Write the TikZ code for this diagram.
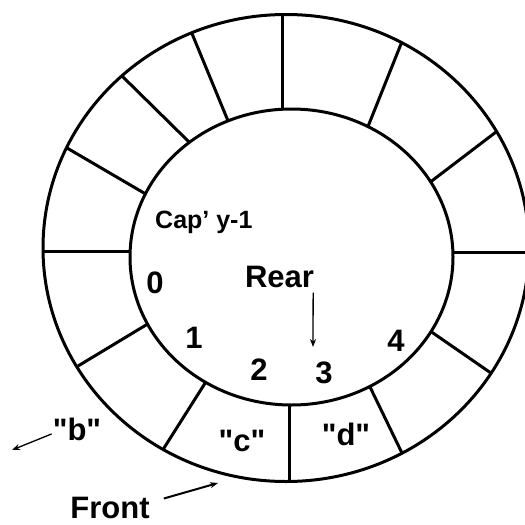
\documentclass[tikz,border=0pt]{standalone}
\usepackage{fontspec}
\setmainfont{Liberation Sans}[Ligatures=TeXOff]
\usetikzlibrary{arrows.meta}
\tikzset{ring/.style={line width=3pt},
  word/.style={font=\bfseries\fontsize{31}{36}\selectfont,inner sep=0pt,anchor=base},
  smallword/.style={word,font=\bfseries\fontsize{25}{30}\selectfont},
  pointer/.style={->,line width=1.3pt}}

\begin{document}
\begin{tikzpicture}[x=1pt,y=-1pt,>={Stealth[length=8pt,width=6pt]}]
    \useasboundingbox (0,0) rectangle (525,525);
    % cell walls of the ring
    \begin{scope}
      \clip (286,248) ellipse (243 and 233.5);
      \draw[ring,shorten <=-6pt,shorten >=-6pt] (282,107) -- (282,15);
      \draw[ring,shorten <=-6pt,shorten >=-6pt] (226,116) -- (193,36);
      \draw[ring,shorten <=-6pt,shorten >=-6pt] (186,139) -- (122,76);
      \draw[ring,shorten <=-6pt,shorten >=-6pt] (144,193) -- (67,148);
      \draw[ring,shorten <=-6pt,shorten >=-6pt] (130,251) -- (43,251);
      \draw[ring,shorten <=-6pt,shorten >=-6pt] (146,325) -- (83,363);
      \draw[ring,shorten <=-6pt,shorten >=-6pt] (202,388) -- (164,448);
      \draw[ring,shorten <=-6pt,shorten >=-6pt] (289,404) -- (289,482);
      \draw[ring,shorten <=-6pt,shorten >=-6pt] (371,389) -- (401,451);
      \draw[ring,shorten <=-6pt,shorten >=-6pt] (433,333) -- (488,371);
      \draw[ring,shorten <=-6pt,shorten >=-6pt] (453,252) -- (528,252);
      \draw[ring,shorten <=-6pt,shorten >=-6pt] (433,180) -- (496,132);
      \draw[ring,shorten <=-6pt,shorten >=-6pt] (369,124) -- (401,44);
    \end{scope}
    \filldraw[ring,fill=white] (291.5,257) ellipse (161.5 and 148);
    \draw[ring] (286,248) ellipse (243 and 233.5);

    % indices
    \node[smallword,anchor=base west] (capy) at (155,228) {Cap’ y-1};
    \node[word] (idx0) at (155,293) {0};
    \node[word] (idx1) at (194,348) {1};
    \node[word] (idx2) at (259,380) {2};
    \node[word] (idx3) at (324,383) {3};
    \node[word] (idx4) at (396,351) {4};

    % contents
    \node[word] (valb) at (77,440) {"b"};
    \node[word] (valc) at (242,451) {"c"};
    \node[word] (vald) at (346,445) {"d"};

    % pointers
    \node[word] (rear) at (279.5,287) {Rear};
    \coordinate (rearpt) at (313,347);
    \draw[pointer] ([xshift=-1pt,yshift=-5pt]rear.south east) -- (rearpt);

    \node[word] (front) at (110,518) {Front};
    \coordinate (frontpt) at (218,483);
    \draw[pointer,line width=2pt] ([xshift=14pt,yshift=9pt]front.east) -- (frontpt);

    \coordinate (bpt) at (12,450);
    \draw[pointer] ([xshift=-1pt,yshift=-5pt]valb.west) -- (bpt);
\end{tikzpicture}
\end{document}
